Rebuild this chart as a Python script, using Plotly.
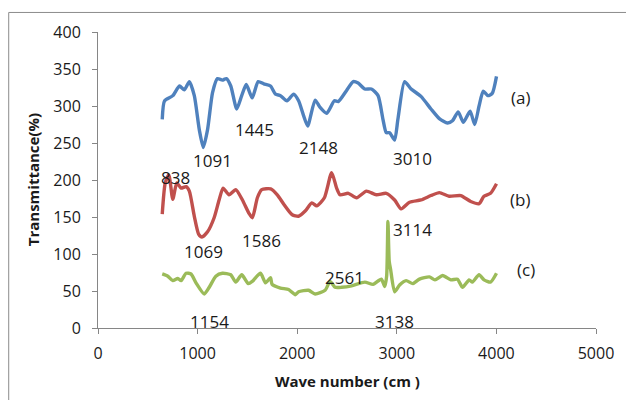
import plotly.graph_objects as go

# Series (a)
a_x = [645, 668, 751, 818, 867, 917, 967, 1017, 1057, 1100, 1150, 1199, 1249, 1289, 1333, 1393, 1443,
       1489, 1548, 1608, 1665, 1732, 1782, 1832, 1897, 1964, 2014, 2064, 2105, 2180, 2230, 2296, 2373,
       2413, 2496, 2562, 2612, 2679, 2745, 2812, 2861, 2894, 2928, 2978, 3011, 3078, 3144, 3243, 3343,
       3427, 3509, 3559, 3616, 3669, 3736, 3782, 3826, 3868, 3915, 3958, 4001]
a_y = [282, 307, 314, 327, 322, 333, 314, 268, 244, 268, 318, 337, 335, 337, 327, 296, 314,
       329, 311, 333, 330, 327, 316, 314, 307, 316, 307, 287, 273, 308, 298, 290, 307,
       306, 321, 333, 331, 323, 323, 314, 282, 264, 264, 254, 282, 333, 323, 313, 296,
       283, 277, 280, 292, 278, 293, 275, 300, 320, 314, 317, 340]

# Series (b)
b_x = [645, 675, 711, 751, 791, 834, 884, 917, 967, 1010, 1044, 1100, 1166, 1216, 1256, 1316, 1383,
       1450, 1516, 1550, 1600, 1644, 1734, 1800, 1867, 1950, 2014, 2080, 2147, 2196, 2273, 2346, 2396,
       2430, 2513, 2596, 2695, 2795, 2894, 2978, 3044, 3128, 3243, 3343, 3427, 3526, 3642, 3742, 3826,
       3875, 3941, 4001]
b_y = [154, 196, 207, 174, 196, 189, 191, 185, 151, 127, 123, 130, 149, 173, 189, 180, 187,
       173, 155, 149, 176, 187, 188, 180, 167, 153, 151, 158, 169, 165, 176, 210, 189,
       180, 182, 176, 185, 180, 182, 173, 161, 170, 173, 179, 183, 178, 179, 171, 168,
       178, 182, 195]

# Series (c)
c_x = [645, 701, 751, 801, 834, 884, 934, 984, 1067, 1117, 1183, 1249, 1333, 1383, 1443, 1509, 1549,
       1632, 1682, 1732, 1748, 1832, 1914, 1981, 2014, 2114, 2180, 2280, 2330, 2380, 2446, 2546, 2679,
       2762, 2845, 2879, 2898, 2911, 2924, 2938, 2978, 3028, 3094, 3161, 3227, 3327, 3383, 3460, 3543,
       3609, 3659, 3726, 3759, 3826, 3876, 3941, 4001]
c_y = [73, 70, 64, 67, 64, 74, 73, 61, 46, 55, 70, 74, 72, 62, 72, 60, 63,
       74, 61, 68, 59, 54, 52, 45, 49, 51, 46, 51, 63, 55, 55, 57, 62,
       59, 66, 56, 70, 144, 90, 79, 49, 58, 64, 60, 66, 69, 65, 71, 65,
       66, 55, 65, 62, 72, 65, 62, 74]

# Peak labels
lab_text = ["1091", "1445", "2148", "3010", "838", "1069", "1586", "3114", "2561", "1154", "3138",
            "(a)", "(b)", "(c)"]
lab_x = [1150, 1570, 2214, 3160, 778, 1057, 1645, 3160, 2473, 1117, 2980, 4237, 4237, 4297]
lab_y = [227, 268, 244, 229, 203, 103, 118, 133, 68, 9, 9, 312, 174, 79]

FONT = "Open Sans"
TXT = "#1a1a1a"

fig = go.Figure()
for xs, ys, col in [(a_x, a_y, "#4F81BD"), (b_x, b_y, "#C0504D"), (c_x, c_y, "#9BBB59")]:
    fig.add_trace(go.Scatter(x=xs, y=ys, mode="lines",
                             line=dict(color=col, width=3.4, shape="spline", smoothing=0.6),
                             showlegend=False, hoverinfo="skip"))

for t, x, y in zip(lab_text, lab_x, lab_y):
    fig.add_annotation(x=x, y=y, text=t, showarrow=False, xref="x", yref="y",
                       font=dict(family=FONT, size=17, color=TXT))

# axis titles
fig.add_annotation(x=0.5, y=-0.18, xref="paper", yref="paper", text="<b>Wave number (cm )</b>",
                   showarrow=False, yanchor="middle", font=dict(family=FONT, size=15, color=TXT))
fig.add_annotation(x=-0.13, y=0.5, xref="paper", yref="paper", text="<b>Transmittance(%)</b>",
                   showarrow=False, textangle=-90, xanchor="center",
                   font=dict(family=FONT, size=15, color=TXT))

# chart border (left and top edges visible)
fig.add_shape(type="line", xref="paper", yref="paper", x0=-0.1793, x1=-0.1793, y0=-0.4, y1=1.066,
              line=dict(color="#8c8c8c", width=1))
fig.add_shape(type="line", xref="paper", yref="paper", x0=-0.1793, x1=1.3, y0=1.066, y1=1.066,
              line=dict(color="#8c8c8c", width=1))

fig.update_layout(
    width=626, height=400,
    margin=dict(l=98, r=26, t=32, b=72),
    plot_bgcolor="white", paper_bgcolor="white",
    font=dict(family=FONT, size=16, color=TXT),
    xaxis=dict(range=[0, 5000], tickvals=[0, 1000, 2000, 3000, 4000, 5000], showgrid=False,
               zeroline=False, showline=True, linecolor="#868686", linewidth=1,
               ticks="outside", ticklen=5, tickcolor="#868686", ticklabelstandoff=6,
               tickfont=dict(family=FONT, size=16, color=TXT)),
    yaxis=dict(range=[0, 400], tickvals=list(range(0, 401, 50)), showgrid=False,
               zeroline=False, showline=True, linecolor="#868686", linewidth=1,
               ticks="outside", ticklen=5, tickcolor="#868686", ticklabelstandoff=8,
               tickfont=dict(family=FONT, size=16, color=TXT)),
)

fig.write_html("out.html")
